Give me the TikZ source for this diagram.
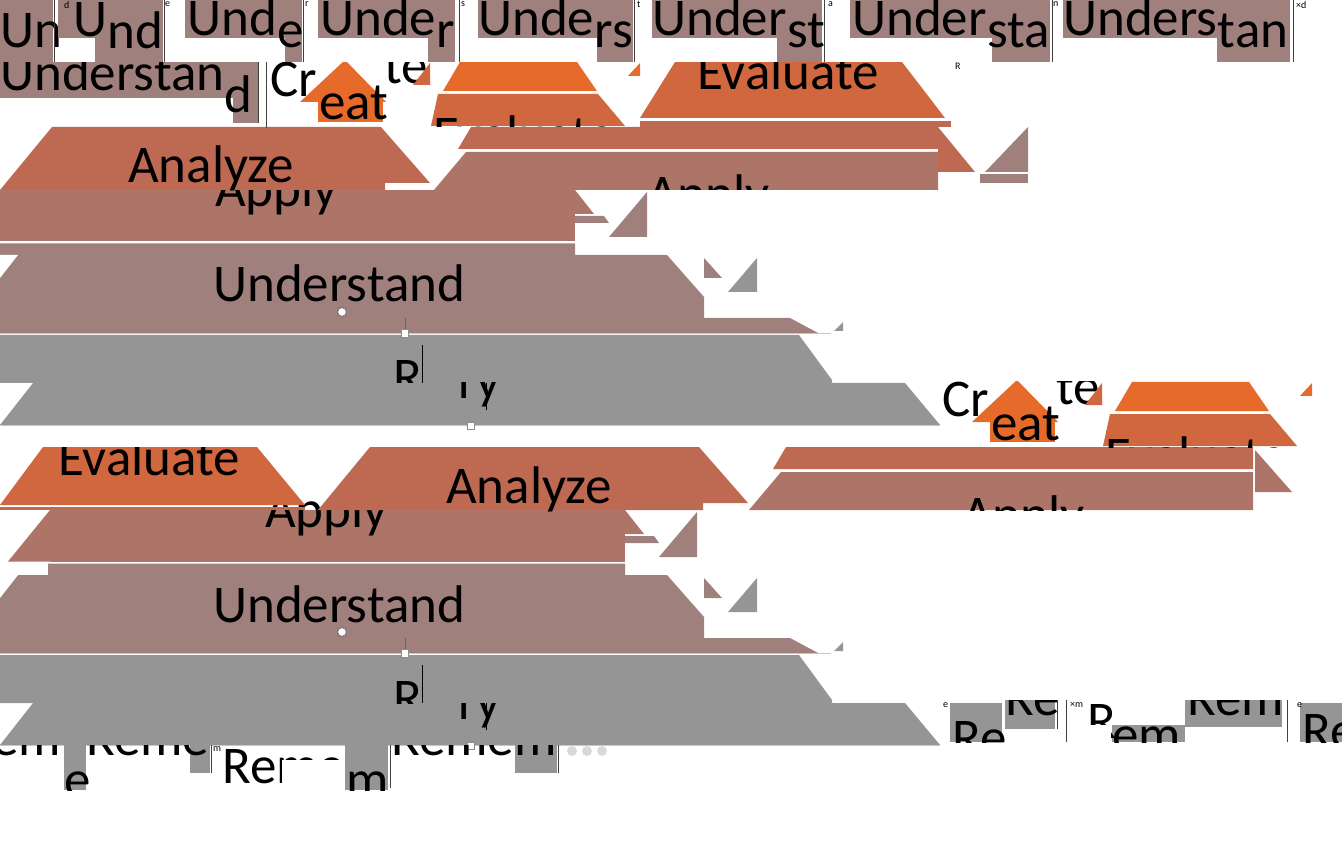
\documentclass[tikz,border=0pt]{standalone}
\usepackage{fontspec}
\setmainfont{Carlito}
\definecolor{remgrey}{HTML}{959595}
\definecolor{undmauve}{HTML}{A0807C}
\definecolor{appbrown}{HTML}{AD7468}
\definecolor{anared}{HTML}{BE6A52}
\definecolor{evaorange}{HTML}{D0673E}
\definecolor{creorange}{HTML}{E66A2A}
\tikzset{
  lvl/.style={font=\fontsize{53}{60}\selectfont, inner sep=0pt, anchor=base west},
  tag/.style={font=\fontsize{10}{11}\selectfont, inner sep=0pt, anchor=north west},
  edge/.style={line width=0.9pt, black!75},
  caret/.style={line width=0.8pt, black},
  selline/.style={line width=1.5pt, black!22},
  handle/.style={draw=black!45, fill=white, line width=0.6pt},
}
\begin{document}
\begin{tikzpicture}[x=1pt,y=-1pt]
\useasboundingbox (0,0) rectangle (1342,842);

% lower levels, drawn twice
\foreach \dx/\dy in {0/0,50/320}{
  \begin{scope}[shift={(0,\dy)}]
    \fill[undmauve] (0,243.5) -- ({575+\dx},243.5) -- ({575+\dx},255) -- (667,255) -- (704,297)
      -- (704,318) -- (790,318) -- (818,333) -- (0,333) -- cycle;
    \fill[white] (0,255) -- (18,255) -- (0,278) -- cycle;
    \fill[undmauve] (704,258) -- (704,278) -- (722,278) -- cycle;
    \fill[remgrey] (757,258) -- (757,292) -- (728,292) -- cycle;
    \fill[remgrey] (843,322) -- (843,331) -- (834,331) -- cycle;
    \node[lvl] (und) at (213,302) {Understand};
    \fill[remgrey] (0,335) -- (799,335) -- (832,380) -- (832,383) -- (0,383) -- cycle;
    \fill[remgrey] (33,383) -- (905,383) -- (940,425) -- (0,425) -- cycle;
    \begin{scope}
      \clip (0,335) rectangle (900,383);
      \node[lvl] (remR) at (393,395) {R};
    \end{scope}
    \begin{scope}
      \clip (0,383) rectangle (900,410);
      \node[lvl] (remy) at (458,399) {ry};
    \end{scope}
    \draw[caret] (422,345) -- (422,383);
    \draw[caret] (486,383) -- (486,410);
    \draw[selline] (0,333.5) -- (831,333.5);
    \draw[selline] (0,425.5) -- (940,425.5);
    \draw[black!60] (405,318) -- (405,329);
    \draw[handle] (401.5,329.5) rectangle (408.5,337);
    \draw[handle] (467,422) rectangle (474,429);
    \draw[handle, draw=black!55, line width=1pt] (342,312) circle[radius=4.5pt];
  \end{scope}
  \begin{scope}[shift={(\dx,\dy)}]
    \fill[appbrown] (0,190) rectangle (575,241.5);
    \fill[appbrown] (575,190) -- (594,214) -- (575,214) -- cycle;
    \fill[undmauve] (575,216) -- (604,216) -- (609,223) -- (575,223) -- cycle;
    \fill[undmauve] (647,192) -- (647,237) -- (609,237) -- cycle;
    \node[lvl] (app) at (215,207) {Apply};
  \end{scope}
}
\fill[appbrown] (50,510) -- (50,561.5) -- (8,561.5) -- cycle;
\fill[white] (0,562) rectangle (48,575);

% analyze level, drawn twice
\foreach \ax/\rx/\dy in {0/0/0,318/315/320}{
  \begin{scope}[shift={(\ax,\dy)}]
    \fill[anared] (52,127) -- (381,127) -- (430,183) -- (385,183) -- (385,190) -- (0,190) -- cycle;
    \node[lvl] (ana) at (128,183) {Analyze};
  \end{scope}
  \begin{scope}[shift={(\rx,\dy)}]
    \fill[anared] (471,127) -- (938,127) -- (938,149) -- (458,149) -- cycle;
    \fill[appbrown] (466,152) -- (938,152) -- (938,190) -- (434,190) -- cycle;
    \begin{scope}
      \clip (430,152) rectangle (938,190);
      \node[lvl] (app2) at (647,212) {Apply};
    \end{scope}
  \end{scope}
}
\fill[anared] (938,127) -- (975,172) -- (938,172) -- cycle;
\fill[undmauve] (1028,127) -- (1028,172) -- (985,172) -- cycle;
\fill[undmauve] (980,174) rectangle (1028,183);
\begin{scope}
  \clip (0,447) rectangle (1342,842);
  \fill[evaorange] (43,447) -- (257,447) -- (305,505) -- (0,505) -- cycle;
  \node[lvl] (eva2) at (58,475) {Evaluate};
  \fill[anared] (0,506.5) rectangle (305,510);
  \fill[appbrown] (1255,450) -- (1292,492) -- (1255,492) -- cycle;
\end{scope}

% understand tile, create and evaluate
\fill[undmauve] (0,62) rectangle (233,98);
\fill[undmauve] (233,62) rectangle (258,123);
\node[lvl] (und1) at (0,91) {Understan};
\node[lvl] at ([yshift=-22pt]und1.base east) {d};
\draw[edge] (258,62) -- (258,123);
\draw[edge] (266,62) -- (266,128);
\foreach \gx/\gy in {0/0,672/320}{
  \begin{scope}[shift={(\gx,\gy)}]
    \clip (267,62) rectangle (641,127);
    \fill[creorange] (345,60) -- (386,102) -- (300,102) -- cycle;
    \fill[creorange] (318,97) rectangle (383,122);
    \node[lvl] (cr) at (270,97) {Cr};
    \node[lvl] (eat) at (319,120) {eat};
    \node[lvl] (te) at (384,84) {te};
    \fill[evaorange] (430,63) -- (430,85) -- (413,85) -- cycle;
    \fill[creorange] (460,62) -- (577,62) -- (597,91) -- (443,91) -- cycle;
    \fill[evaorange] (438,94) -- (598,94) -- (625,126) -- (431,126) -- cycle;
    \node[lvl] (eva) at (433,153) {Evaluate};
    \fill[creorange] (640,63) -- (640,76) -- (628,76) -- cycle;
  \end{scope}
}
\fill[evaorange] (675,62) -- (902,62) -- (945,118) -- (640,118) -- cycle;
\node[lvl] (eva1) at (697,90) {Evaluate};
\fill[anared] (640,121) rectangle (951,127);
\node[tag] at (955,63) {R};

% typing tiles on top
\fill[white] (0,0) rectangle (1342,62);
\foreach \xs/\xe/\xl/\xt/\pre/\suf/\bl [count=\i] in {0/53/0/0/Un/{}/48, 58/163/95/73/U/nd/37,
    185/302/285/187/Und/e/36, 318/455/428/320/Unde/r/36, 478/633/597/478/Unde/rs/36,
    652/822/777/652/Under/st/36, 850/1050/992/852/Under/sta/36, 1063/1290/1217/1063/Unders/tan/36}{
  \fill[undmauve] (\xs,0) rectangle (\xe,38);
  \fill[undmauve] (\xl,38) rectangle (\xe,62);
  \node[lvl] (top\i) at (\xt,\bl) {\pre};
  \node[lvl] at ([yshift=-12pt]top\i.base east) {\suf};
}
\foreach \lx in {54,164,303,459,634,824,1052,1293}
  \draw[edge] (\lx,0) -- (\lx,62);
\foreach \tx/\tg in {64/d,165/e,305/r,461/s,637/t,828/a,1053/n,1296/{×d}}
  \node[tag] at (\tx,1) {\tg};

% typing tiles at the bottom
\begin{scope}
  \clip (0,745.5) rectangle (615,790);
  \fill[remgrey] (64,745) rectangle (86,790);
  \fill[remgrey] (190,745) rectangle (210,773);
  \fill[remgrey] (515,745) rectangle (557,773);
  \node[lvl] at (-8,755) {em};
  \node[lvl] at (64,797) {e};
  \node[lvl] at (86,755) {Reme};
  \node[lvl] at (222,783) {Reme};
  \fill[white] (282,760) rectangle (344,790);
  \fill[remgrey] (345,745) rectangle (388,790);
  \node[lvl] at (346,797) {m};
  \node[lvl] at (391,755) {Remem};
  \foreach \cx in {572,587,602}
    \fill[black!15] (\cx,751) circle[radius=5pt];
\end{scope}
\draw[edge] (211,745) -- (211,773);
\draw[edge] (390,745) -- (390,788);
\draw[edge] (558,745) -- (558,773);
\node[tag] at (213,746) {m};
\begin{scope}
  \clip (940,700) rectangle (1342,742.5);
  \fill[remgrey] (950,703) rectangle (1002,742);
  \fill[remgrey] (1005,700) rectangle (1055,729);
  \fill[remgrey] (1112,725) rectangle (1185,742);
  \fill[remgrey] (1185,700) rectangle (1282,727);
  \fill[remgrey] (1300,703) rectangle (1342,742);
  \node[lvl] at (952,755) {Re};
  \node[lvl] at (1005,715) {Re};
  \node[lvl] at (1087,738) {R};
  \fill[white] (1087,725) rectangle (1111,742);
  \node[lvl] at (1112,752) {em};
  \node[lvl] at (1187,715) {Rem};
  \node[lvl] at (1302,748) {Re};
\end{scope}
\draw[edge] (1057,700) -- (1057,729);
\draw[edge] (1066,700) -- (1066,742);
\draw[edge] (1287,700) -- (1287,742);
\node[tag] at (943,702) {e};
\node[tag] at (1070,702) {×m};
\node[tag] at (1297,702) {e};
\end{tikzpicture}
\end{document}
